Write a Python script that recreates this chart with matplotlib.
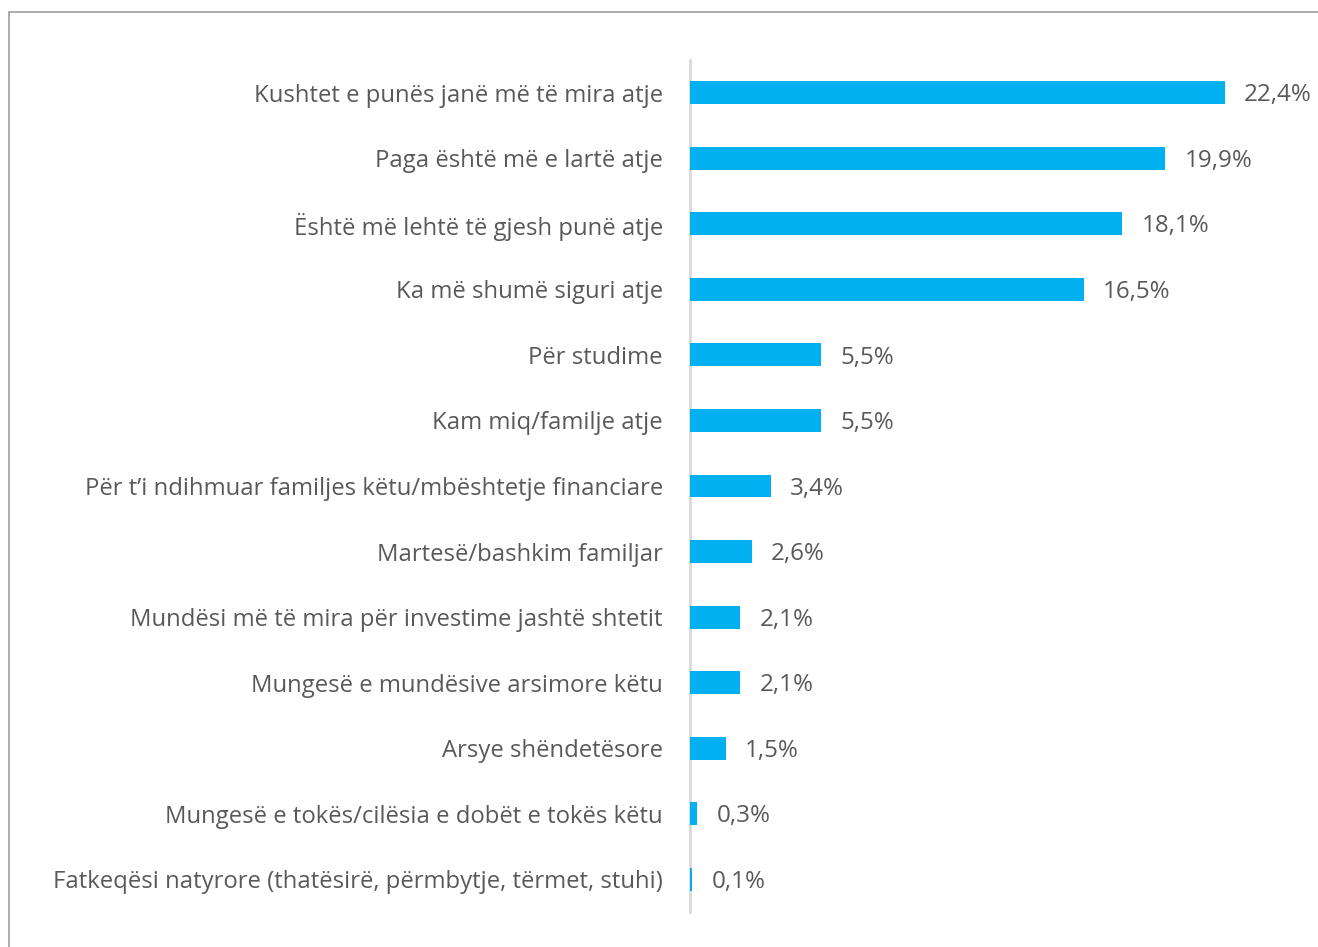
import matplotlib.pyplot as plt
from matplotlib.patches import Rectangle

# Të dhënat
kategorite = [
    "Kushtet e punës janë më të mira atje",
    "Paga është më e lartë atje",
    "Është më lehtë të gjesh punë atje",
    "Ka më shumë siguri atje",
    "Për studime",
    "Kam miq/familje atje",
    "Për t’i ndihmuar familjes këtu/mbështetje financiare",
    "Martesë/bashkim familjar",
    "Mundësi më të mira për investime jashtë shtetit",
    "Mungesë e mundësive arsimore këtu",
    "Arsye shëndetësore",
    "Mungesë e tokës/cilësia e dobët e tokës këtu",
    "Fatkeqësi natyrore (thatësirë, përmbytje, tërmet, stuhi)",
]
vlerat = [22.4, 19.9, 18.1, 16.5, 5.5, 5.5, 3.4, 2.6, 2.1, 2.1, 1.5, 0.3, 0.1]

plt.rcParams['font.family'] = ['Open Sans', 'DejaVu Sans']
gri = '#595959'

W, H = 1318, 947
fig = plt.figure(figsize=(W / 100, H / 100), dpi=100)

# korniza e figurës
fig.patches.append(Rectangle((9 / W, -0.1), 1.2, (H - 12) / H + 0.1,
                             transform=fig.transFigure, fill=False,
                             edgecolor='#A6A6A6', linewidth=1.3))

ax = fig.add_axes([690 / W, (H - 912) / H, (W - 690) / W, 852 / H])

y = range(len(kategorite))
ax.barh(y, vlerat, height=0.35, color='#00B0F0', zorder=3)
ax.set_ylim(len(kategorite) - 0.5, -0.5)
ax.set_xlim(0, (W - 690) / 23.88)

for i, v in enumerate(vlerat):
    ax.text(v + 0.8, i + 0.04, f"{v:.1f}%".replace('.', ','), va='center', ha='left',
            fontsize=17.4, color=gri)

ax.set_yticks(list(y))
ax.set_yticklabels(kategorite, fontsize=17.2, color=gri)
ax.tick_params(axis='y', length=0, pad=19.5)
ax.set_xticks([])

for s in ['top', 'right', 'bottom']:
    ax.spines[s].set_visible(False)
ax.spines['left'].set_color('#D9D9D9')
ax.spines['left'].set_linewidth(2)
ax.spines['left'].set_zorder(1)

fig.savefig('out.png', dpi=100)
